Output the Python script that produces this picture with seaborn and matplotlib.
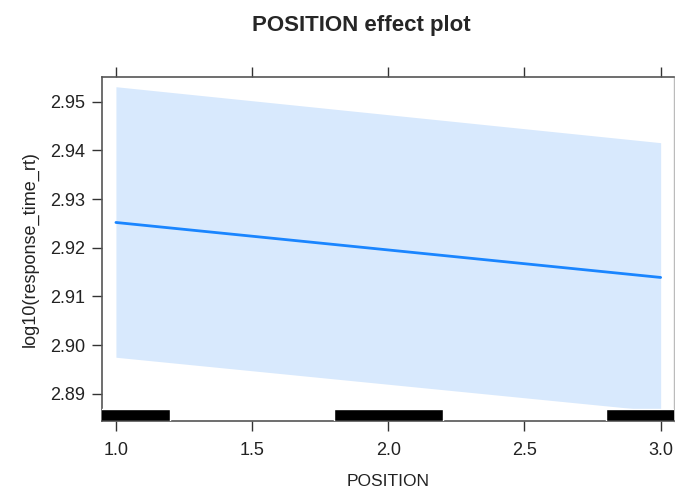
import numpy as np
import pandas as pd
import matplotlib
matplotlib.use("Agg")
import matplotlib.pyplot as plt
import seaborn as sns

# effect estimates for POSITION (log10 response time)
position = [1.0, 3.0]
fit = [2.9252, 2.9139]
lower = [2.8975, 2.8864]
upper = [2.9531, 2.9416]

# rug of jittered observations, shown as (start, width) spans
rug_start = [0.80, 1.80, 2.80]
rug_width = [0.40, 0.40, 0.40]

xticks = [1.0, 1.5, 2.0, 2.5, 3.0]
yticks = [2.89, 2.90, 2.91, 2.92, 2.93, 2.94, 2.95]

df = pd.DataFrame({'POSITION': position, 'fit': fit, 'lower': lower, 'upper': upper})

sns.set_style('white')
plt.rcParams['font.family'] = ['Liberation Sans', 'DejaVu Sans']

fig = plt.figure(figsize=(6.75, 4.91), dpi=100)
ax = fig.add_axes([0.151, 0.1426, 0.8475, 0.7006])

ax.fill_between(df['POSITION'], df['lower'], df['upper'], color='#d8e9fd', linewidth=0, zorder=1)
sns.lineplot(data=df, x='POSITION', y='fit', ax=ax, color='#1a85ff', linewidth=2, zorder=2)

# rug along the bottom
ax.broken_barh(list(zip(rug_start, rug_width)), (0, 0.036), facecolors='black',
               transform=ax.get_xaxis_transform(), zorder=3)

ax.set_xlim(0.9486, 3.049)
ax.set_ylim(2.8844, 2.9551)
ax.set_xticks(xticks)
ax.set_xticklabels(['%.1f' % t for t in xticks])
ax.set_yticks(yticks)
ax.set_yticklabels(['%.2f' % t for t in yticks])

ax.tick_params(axis='both', which='both', direction='out', length=7, width=1,
               color='#333333', labelsize=13, labelcolor='#222222')
ax.tick_params(axis='x', top=True, bottom=True, pad=8)
ax.tick_params(axis='y', left=True, right=False, pad=5)

for side in ['left', 'bottom', 'top']:
    ax.spines[side].set_color('#555555')
    ax.spines[side].set_linewidth(1.2)
ax.spines['right'].set_color('#bbbbbb')
ax.spines['right'].set_linewidth(1)

ax.set_xlabel('POSITION', fontsize=12.5, color='#222222', labelpad=11)
ax.set_ylabel('log10(response_time_rt)', fontsize=13, color='#222222', labelpad=8)

fig.text(0.536, 0.948, 'POSITION effect plot', ha='center', va='center',
         fontsize=16, fontweight='bold')

fig.savefig('out.png', dpi=100)
